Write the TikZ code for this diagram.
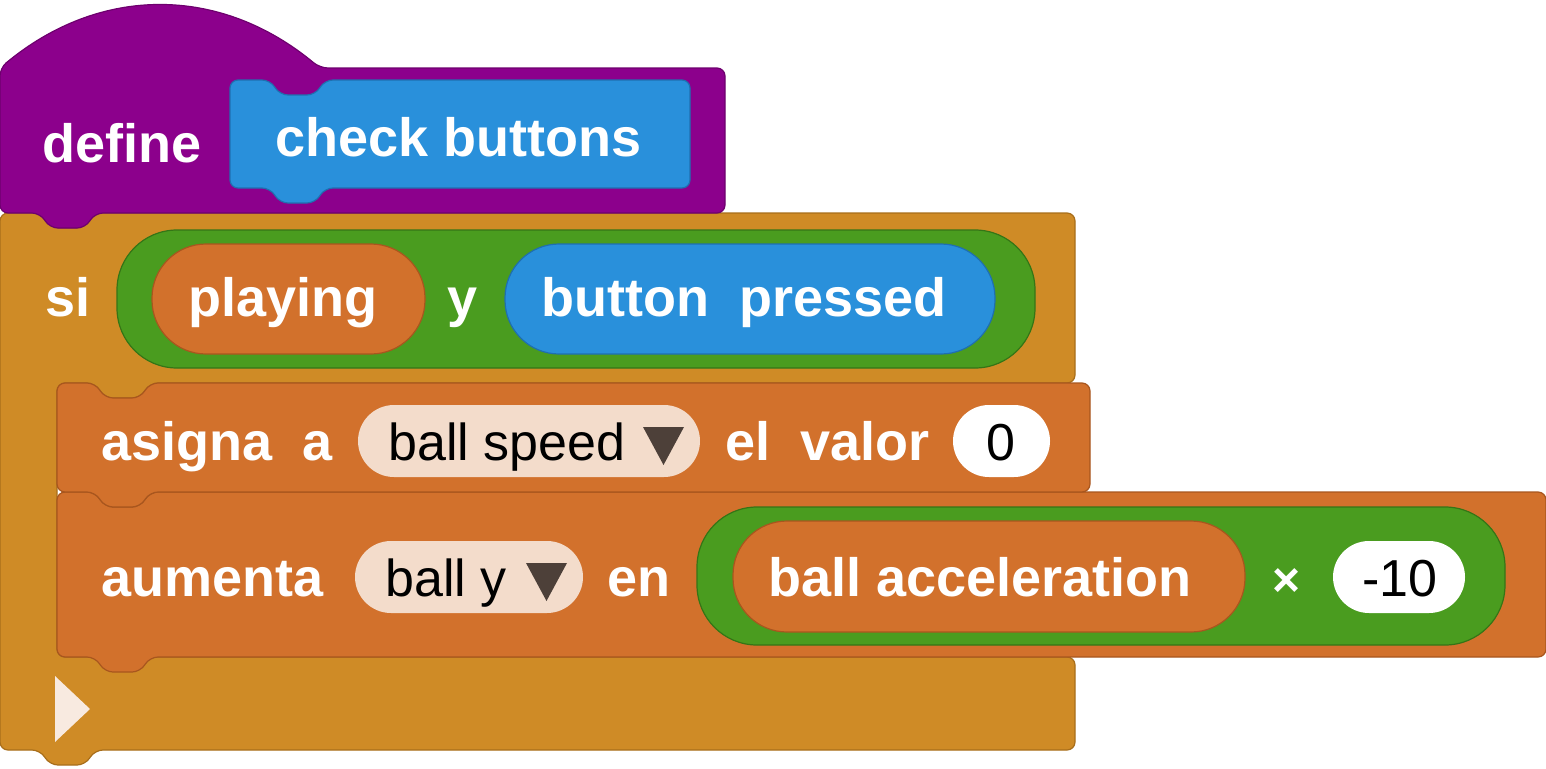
\documentclass[tikz,border=0pt]{standalone}
\usepackage{fontspec}
\setmainfont{Liberation Sans}
\definecolor{cpur}{HTML}{8C008C}
\definecolor{cpurd}{HTML}{6E006E}
\definecolor{cblu}{HTML}{2990DB}
\definecolor{cblud}{HTML}{1F6FB0}
\definecolor{cgold}{HTML}{CF8B26}
\definecolor{cgoldd}{HTML}{A86E1A}
\definecolor{corg}{HTML}{D2712C}
\definecolor{corgd}{HTML}{A8561E}
\definecolor{cgrn}{HTML}{4A9C1F}
\definecolor{cgrnd}{HTML}{357516}
\definecolor{ccre}{HTML}{F3DCCB}
\definecolor{cdark}{HTML}{4D4039}
\tikzset{
 lbl/.style={anchor=base west,inner sep=0pt,text=white,font=\fontsize{54}{60}\selectfont\bfseries},
 dlbl/.style={anchor=base west,inner sep=0pt,text=black,font=\fontsize{52}{60}\selectfont},
 blk/.style={rounded corners=8pt,line width=1.2pt},
 pill/.style={rounded corners=36pt,line width=1.2pt},
}
\begin{document}
\begin{tikzpicture}[x=1pt,y=-1pt]
\useasboundingbox (0,0) rectangle (1546,768);
% if block
\draw[blk,fill=cgold,draw=cgoldd] (0,213) -- (40,213) -- (50,228) -- (85,228) -- (95,213) -- (1075,213) -- (1075,383) -- (150,383) -- (140,398) -- (105,398) -- (95,383) -- (57,383) -- (57,657) -- (1075,657) -- (1075,750) -- (95,750) -- (85,765) -- (50,765) -- (40,750) -- (0,750) -- cycle;
% define hat
\draw[blk,fill=cpur,draw=cpurd] (0,68) .. controls (100,-15) and (220,-15) .. (320,68) -- (725,68) -- (725,213) -- (95,213) -- (85,228) -- (50,228) -- (40,213) -- (0,213) -- cycle;
\draw[blk,fill=cblu,draw=cblud] (230,80) -- (270,80) -- (280,95) -- (315,95) -- (325,80) -- (690,80) -- (690,188) -- (325,188) -- (315,203) -- (280,203) -- (270,188) -- (230,188) -- cycle;
\node[lbl] (def) at (42,162) {define};
\node[lbl] (cb) at (275,156) {check buttons};
% condition
\node[lbl] (si) at (45,316) {si};
\draw[pill,rounded corners=60pt,fill=cgrn,draw=cgrnd] (117,230) rectangle (1035,368);
\draw[pill,rounded corners=54pt,fill=corg,draw=corgd] (152,244) rectangle (425,354);
\node[lbl] (pl) at (188,316) {playing};
\node[lbl] (yy) at (447,316) {y};
\draw[pill,rounded corners=54pt,fill=cblu,draw=cblud] (505,244) rectangle (995,354);
\node[lbl] (bp) at (541,316) {button\ \ pressed};
% change block
\draw[blk,fill=corg,draw=corgd] (57,492) -- (95,492) -- (105,507) -- (140,507) -- (150,492) -- (1546,492) -- (1546,657) -- (150,657) -- (140,672) -- (105,672) -- (95,657) -- (57,657) -- cycle;
% set block
\draw[blk,fill=corg,draw=corgd] (57,383) -- (95,383) -- (105,398) -- (140,398) -- (150,383) -- (1090,383) -- (1090,492) -- (150,492) -- (140,507) -- (105,507) -- (95,492) -- (57,492) -- cycle;
\node[lbl] (as) at (101,460) {asigna\ \ a};
\fill[ccre,rounded corners=36pt] (358,405) rectangle (700,477);
\node[dlbl] (bs) at (388,460) {ball speed};
\fill[cdark] (643,427) -- (684,427) -- (663.5,465) -- cycle;
\node[lbl] (ev) at (725,460) {el\ \ valor};
\fill[white,rounded corners=36pt] (953,405) rectangle (1050,477);
\node[dlbl] (z) at (986,460) {0};
\node[lbl] (au) at (101,596) {aumenta};
\fill[ccre,rounded corners=36pt] (355,541) rectangle (583,613);
\node[dlbl] (by) at (385,596) {ball y};
\fill[cdark] (526,563) -- (567,563) -- (546.5,601) -- cycle;
\node[lbl] (en) at (607,596) {en};
\draw[pill,rounded corners=60pt,fill=cgrn,draw=cgrnd] (697,507) rectangle (1505,645);
\draw[pill,rounded corners=54pt,fill=corg,draw=corgd] (733,521) rectangle (1245,632);
\node[lbl] (ba) at (768,596) {ball acceleration};
\node[lbl] (x) at (1272,596) {\fontsize{48}{50}\selectfont ×};
\fill[white,rounded corners=36pt] (1333,541) rectangle (1465,613);
\node[dlbl] (m) at (1362,596) {-10};
% end arrow
\fill[ccre!60!white] (55,676) -- (90,709) -- (55,742) -- cycle;
\end{tikzpicture}
\end{document}
